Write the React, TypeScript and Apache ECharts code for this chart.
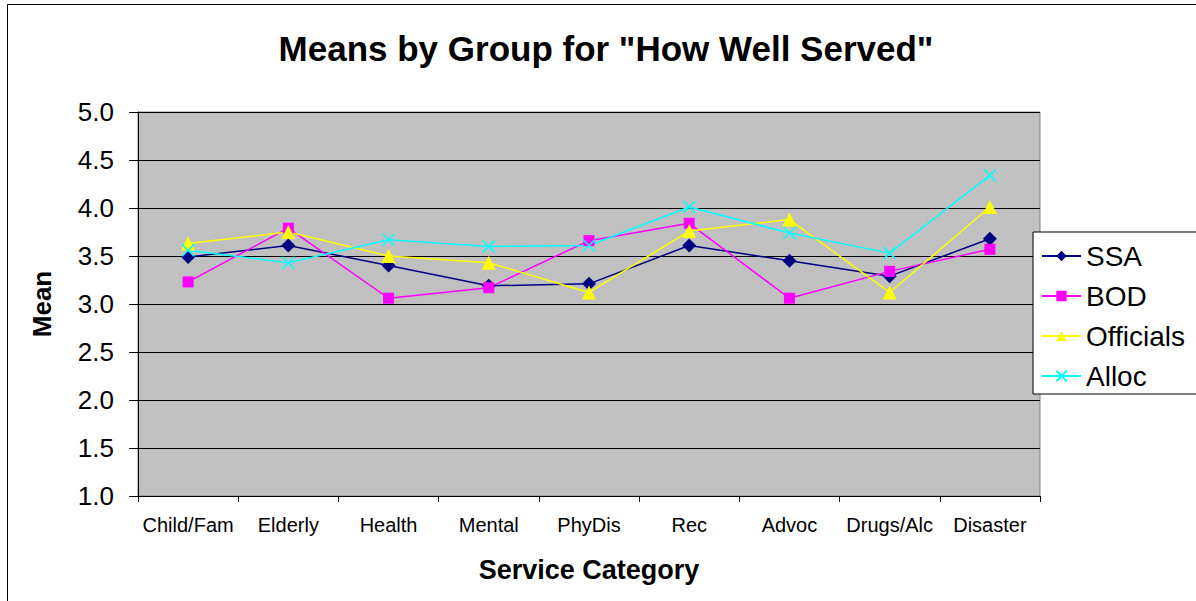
import React, { useEffect, useRef } from "react";
import * as echarts from "echarts";

// Service categories along the x axis
const categories = [
  "Child/Fam",
  "Elderly",
  "Health",
  "Mental",
  "PhyDis",
  "Rec",
  "Advoc",
  "Drugs/Alc",
  "Disaster",
];

// Mean rating per group
const ssa = [3.49, 3.61, 3.4, 3.19, 3.21, 3.61, 3.45, 3.29, 3.68];
const bod = [3.23, 3.79, 3.06, 3.17, 3.66, 3.84, 3.06, 3.34, 3.57];
const officials = [3.63, 3.75, 3.5, 3.43, 3.12, 3.76, 3.88, 3.12, 4.01];
const alloc = [3.56, 3.43, 3.67, 3.6, 3.61, 4.01, 3.74, 3.53, 4.34];

const FONT = "'Liberation Sans', Arial, Helvetica, sans-serif";
const CROSS = "path://M0,0L10,10M10,0L0,10";

export default function App() {
  const ref = useRef<HTMLDivElement>(null);

  useEffect(() => {
    if (!ref.current) return;
    const chart = echarts.init(ref.current, undefined, { renderer: "svg" });

    const mk = (
      name: string,
      data: number[],
      color: string,
      symbol: string,
      symbolSize: number,
      extra: any = {}
    ) => ({
      name,
      type: "line",
      data,
      symbol,
      symbolSize,
      showSymbol: true,
      lineStyle: { color, width: 1.5 },
      itemStyle: { color, ...extra },
      emphasis: { disabled: true },
      z: 3,
    });

    chart.setOption({
      animation: false,
      textStyle: { fontFamily: FONT },
      graphic: [
        {
          type: "rect",
          shape: { x: 7.5, y: 4.5, width: 1200, height: 620 },
          style: { fill: "none", stroke: "#000", lineWidth: 1 },
          silent: true,
        },
        {
          type: "text",
          x: 606,
          y: 48,
          style: {
            text: 'Means by Group for "How Well Served"',
            font: `bold 35px ${FONT}`,
            fill: "#000",
            textAlign: "center",
            textVerticalAlign: "middle",
          },
        },
      ],
      grid: {
        left: 138,
        top: 112,
        width: 902,
        height: 384,
        show: true,
        backgroundColor: "#C0C0C0",
        borderColor: "#808080",
        borderWidth: 1,
      },
      legend: {
        orient: "vertical",
        left: 1033,
        top: 232,
        backgroundColor: "#fff",
        borderColor: "#000",
        borderWidth: 1,
        padding: [10, 14, 4, 8],
        itemGap: 12,
        itemWidth: 39,
        itemHeight: 13,
        textStyle: { fontSize: 28, color: "#000", fontFamily: FONT },
        data: ["SSA", "BOD", "Officials", "Alloc"],
      },
      xAxis: {
        type: "category",
        data: categories,
        boundaryGap: true,
        name: "Service Category",
        nameLocation: "middle",
        nameGap: 60,
        nameTextStyle: { fontSize: 27, fontWeight: "bold", color: "#000" },
        axisLine: { lineStyle: { color: "#000", width: 1 } },
        axisTick: { show: true, length: 6, lineStyle: { color: "#000" } },
        axisLabel: { fontSize: 20, color: "#000", margin: 19, interval: 0 },
        splitLine: { show: false },
      },
      yAxis: {
        type: "value",
        min: 1,
        max: 5,
        interval: 0.5,
        name: "Mean",
        nameLocation: "middle",
        nameRotate: 90,
        nameGap: 83,
        nameTextStyle: { fontSize: 26, fontWeight: "bold", color: "#000" },
        axisLine: { show: true, lineStyle: { color: "#000", width: 1 } },
        axisTick: { show: true, length: 9, lineStyle: { color: "#000" } },
        axisLabel: {
          fontSize: 26,
          color: "#000",
          margin: 24,
          formatter: (v: number) => v.toFixed(1),
        },
        splitLine: { show: true, lineStyle: { color: "#000", width: 1 } },
      },
      series: [
        mk("SSA", ssa, "#000080", "diamond", 14),
        mk("BOD", bod, "#FF00FF", "rect", 11),
        mk("Officials", officials, "#FFFF00", "triangle", 14),
        mk("Alloc", alloc, "#00FFFF", CROSS, 12, {
          borderColor: "#00FFFF",
          borderWidth: 1.5,
        }),
      ],
    });

    return () => chart.dispose();
  }, []);

  return (
    <div
      ref={ref}
      style={{
        position: "absolute",
        left: 0,
        top: 0,
        width: 1196,
        height: 601,
        background: "#fff",
      }}
    />
  );
}
